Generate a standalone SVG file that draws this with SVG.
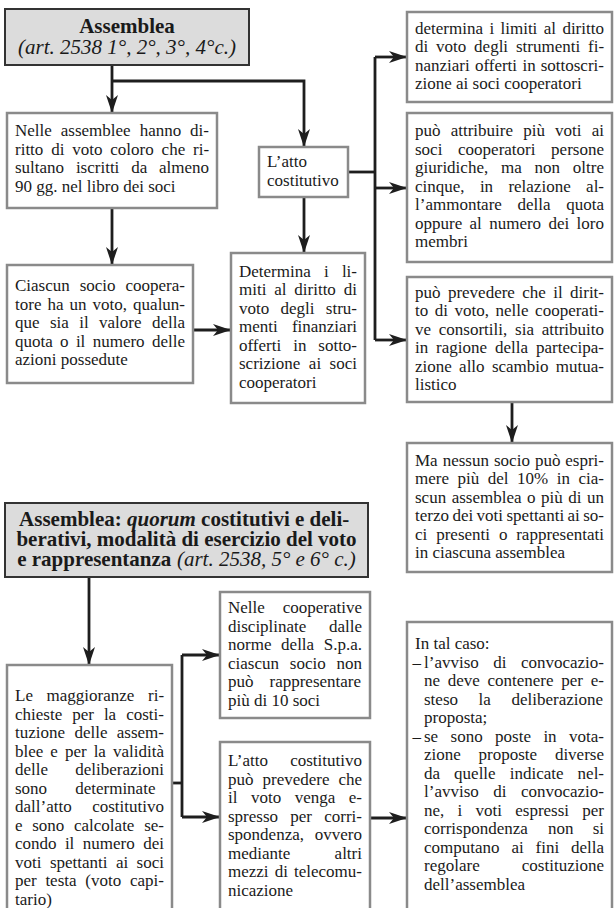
<svg xmlns="http://www.w3.org/2000/svg" width="615" height="908" viewBox="0 0 615 908">
<style>
.bg{fill:#ffffff}
.box{fill:#ffffff;stroke:#8a8a8a;stroke-width:2.5}
.hdr{fill:#dcdcdc;stroke:#333333;stroke-width:2}
text{font-family:"Liberation Serif","Times New Roman",serif;font-size:17px;fill:#1a1a1a}
.h{font-size:21px}
.b{font-weight:bold}
.i{font-style:italic}
.n{font-weight:normal}
.conn{fill:none;stroke:#1e1e1e;stroke-width:2.8}
</style>
<defs>
<marker id="arr" markerUnits="userSpaceOnUse" markerWidth="18" markerHeight="12" refX="17" refY="6" orient="auto">
<path d="M0,0 L18,6 L0,12 L5,6 z" fill="#1e1e1e"/>
</marker>
</defs>
<rect class="bg" x="0" y="0" width="615" height="908"/>

<g id="connectors">
<path class="conn" d="M112,65 V112" marker-end="url(#arr)"/>
<path class="conn" d="M112,81 H304 V146" marker-end="url(#arr)"/>
<path class="conn" d="M112,208 V264" marker-end="url(#arr)"/>
<path class="conn" d="M304,197 V252" marker-end="url(#arr)"/>
<path class="conn" d="M193,330 H230" marker-end="url(#arr)"/>
<path class="conn" d="M348,172 H375"/>
<path class="conn" d="M375,57 V340"/>
<path class="conn" d="M375,57 H406" marker-end="url(#arr)"/>
<path class="conn" d="M375,188 H406" marker-end="url(#arr)"/>
<path class="conn" d="M375,340 H406" marker-end="url(#arr)"/>
<path class="conn" d="M512,402 V442" marker-end="url(#arr)"/>
<path class="conn" d="M89,577 V664" marker-end="url(#arr)"/>
<path class="conn" d="M172,783 H182"/>
<path class="conn" d="M182,655 V817"/>
<path class="conn" d="M182,655 H219" marker-end="url(#arr)"/>
<path class="conn" d="M182,817 H219" marker-end="url(#arr)"/>
<path class="conn" d="M370,818 H406" marker-end="url(#arr)"/>
</g>

<g id="header1">
<rect class="hdr" x="5" y="9" width="244" height="56"/>
<text class="h b" x="127" y="33" text-anchor="middle">Assemblea</text>
<text class="h i" x="127" y="54" text-anchor="middle">(art. 2538 1°, 2°, 3°, 4°c.)</text>
</g>

<g id="boxA">
<rect class="box" x="7" y="113" width="210" height="95"/>
<text y="136"><tspan x="15">Nelle</tspan><tspan x="60.8">assemblee</tspan><tspan x="139.7">hanno</tspan><tspan x="190.1">di-</tspan></text>
<text y="154.5"><tspan x="15">ritto</tspan><tspan x="51.2">di</tspan><tspan x="72.2">voto</tspan><tspan x="110.3">coloro</tspan><tspan x="161.6">che</tspan><tspan x="193">ri-</tspan></text>
<text y="173"><tspan x="15">sultano</tspan><tspan x="75.9">iscritti</tspan><tspan x="131.2">da</tspan><tspan x="159">almeno</tspan></text>
<text x="15" y="191.5">90 gg. nel libro dei soci</text>
</g>

<g id="boxD">
<rect class="box" x="259" y="147" width="89" height="50"/>
<text x="267" y="167">L’atto</text>
<text x="267" y="185.5">costitutivo</text>
</g>

<g id="boxB">
<rect class="box" x="7" y="265" width="186" height="118"/>
<text y="291"><tspan x="15">Ciascun</tspan><tspan x="79.7">socio</tspan><tspan x="125.5">coopera-</tspan></text>
<text y="309.5"><tspan x="15">tore</tspan><tspan x="47.45">ha</tspan><tspan x="69.5">un</tspan><tspan x="92.55">voto,</tspan><tspan x="133.1">qualun-</tspan></text>
<text y="328"><tspan x="15">que</tspan><tspan x="49.9">sia</tspan><tspan x="79.2">il</tspan><tspan x="99.05">valore</tspan><tspan x="152">della</tspan></text>
<text y="346.5"><tspan x="15">quota</tspan><tspan x="60.1">o</tspan><tspan x="75.9">il</tspan><tspan x="92.7">numero</tspan><tspan x="152">delle</tspan></text>
<text x="15" y="365">azioni possedute</text>
</g>

<g id="boxC">
<rect class="box" x="231" y="253" width="134" height="150"/>
<text y="276.5"><tspan x="239">Determina</tspan><tspan x="323.9">i</tspan><tspan x="341.9">li-</tspan></text>
<text y="295"><tspan x="239">miti</tspan><tspan x="274.2">al</tspan><tspan x="294.3">diritto</tspan><tspan x="343.8">di</tspan></text>
<text y="313.5"><tspan x="239">voto</tspan><tspan x="280.5">degli</tspan><tspan x="325.8">stru-</tspan></text>
<text y="332"><tspan x="239">menti</tspan><tspan x="291.9">finanziari</tspan></text>
<text y="350.5"><tspan x="239">offerti</tspan><tspan x="293.3">in</tspan><tspan x="318.3">sotto-</tspan></text>
<text y="369"><tspan x="239">scrizione</tspan><tspan x="308.85">ai</tspan><tspan x="329.6">soci</tspan></text>
<text x="239" y="387.5">cooperatori</text>
</g>

<g id="boxR1">
<rect class="box" x="407" y="12" width="205" height="90"/>
<text y="33.5"><tspan x="415">determina</tspan><tspan x="489.4">i</tspan><tspan x="500.5">limiti</tspan><tspan x="543.8">al</tspan><tspan x="562.4">diritto</tspan></text>
<text y="52"><tspan x="415">di</tspan><tspan x="436.05">voto</tspan><tspan x="474.1">degli</tspan><tspan x="515.95">strumenti</tspan><tspan x="588">fi-</tspan></text>
<text y="70.5"><tspan x="415">nanziari</tspan><tspan x="474.9">offerti</tspan><tspan x="522.5">in</tspan><tspan x="540.7">sottoscri-</tspan></text>
<text x="415" y="89">zione ai soci cooperatori</text>
</g>

<g id="boxR2">
<rect class="box" x="407" y="113" width="205" height="149"/>
<text y="136"><tspan x="415">può</tspan><tspan x="450.7">attribuire</tspan><tspan x="523.2">più</tspan><tspan x="555.1">voti</tspan><tspan x="591.7">ai</tspan></text>
<text y="154.5"><tspan x="415">soci</tspan><tspan x="458.05">cooperatori</tspan><tspan x="551.1">persone</tspan></text>
<text y="173"><tspan x="415">giuridiche,</tspan><tspan x="501">ma</tspan><tspan x="534.6">non</tspan><tspan x="572.8">oltre</tspan></text>
<text y="191.5"><tspan x="415">cinque,</tspan><tspan x="479.9">in</tspan><tspan x="508.4">relazione</tspan><tspan x="586.1">al-</tspan></text>
<text y="210"><tspan x="415">l’ammontare</tspan><tspan x="517.55">della</tspan><tspan x="566.2">quota</tspan></text>
<text y="228.5"><tspan x="415">oppure</tspan><tspan x="469.55">al</tspan><tspan x="489.2">numero</tspan><tspan x="548.45">dei</tspan><tspan x="576.6">loro</tspan></text>
<text x="415" y="247">membri</text>
</g>

<g id="boxR3">
<rect class="box" x="407" y="277" width="205" height="125"/>
<text y="297.5"><tspan x="415">può</tspan><tspan x="447.9">prevedere</tspan><tspan x="522.2">che</tspan><tspan x="553.2">il</tspan><tspan x="570">dirit-</tspan></text>
<text y="316"><tspan x="415">to</tspan><tspan x="434.75">di</tspan><tspan x="454.5">voto,</tspan><tspan x="495.55">nelle</tspan><tspan x="535.1">cooperati-</tspan></text>
<text y="334.5"><tspan x="415">ve</tspan><tspan x="438.8">consortili,</tspan><tspan x="515.05">sia</tspan><tspan x="541.7">attribuito</tspan></text>
<text y="353"><tspan x="415">in</tspan><tspan x="436.1">ragione</tspan><tspan x="495">della</tspan><tspan x="536">partecipa-</tspan></text>
<text y="371.5"><tspan x="415">zione</tspan><tspan x="459.1">allo</tspan><tspan x="491.9">scambio</tspan><tspan x="555.8">mutua-</tspan></text>
<text x="415" y="390">listico</text>
</g>

<g id="boxR4">
<rect class="box" x="407" y="443" width="205" height="129"/>
<text y="465.5"><tspan x="415">Ma</tspan><tspan x="442.7">nessun</tspan><tspan x="494">socio</tspan><tspan x="534.9">può</tspan><tspan x="565.3">espri-</tspan></text>
<text y="484"><tspan x="415">mere</tspan><tspan x="457.5">più</tspan><tspan x="487.7">del</tspan><tspan x="517">10%</tspan><tspan x="556.7">in</tspan><tspan x="578.5">cia-</tspan></text>
<text y="502.5"><tspan x="415">scun</tspan><tspan x="451.7">assemblea</tspan><tspan x="527.1">o</tspan><tspan x="541.1">più</tspan><tspan x="568.3">di</tspan><tspan x="587">un</tspan></text>
<text y="521"><tspan x="415">terzo</tspan><tspan x="452.4">dei</tspan><tspan x="476.6">voti</tspan><tspan x="506.5">spettanti</tspan><tspan x="567.5">ai</tspan><tspan x="583.2">so-</tspan></text>
<text y="539.5"><tspan x="415">ci</tspan><tspan x="436.2">presenti</tspan><tspan x="498.9">o</tspan><tspan x="516.2">rappresentati</tspan></text>
<text x="415" y="558">in ciascuna assemblea</text>
</g>

<g id="header2">
<rect class="hdr" x="5" y="503" width="363" height="74"/>
<text class="h b" y="526"><tspan x="19.1">Assemblea:</tspan><tspan class="i" x="127">quorum</tspan><tspan x="201.1">costitutivi e deli-</tspan></text>
<text class="h b" x="186.5" y="546" text-anchor="middle">berativi, modalità di esercizio del voto</text>
<text class="h" y="566"><tspan class="b" x="17.2">e rappresentanza</tspan><tspan class="i n" x="176.9">(art. 2538, 5° e 6° c.)</tspan></text>
</g>

<g id="boxE">
<rect class="box" x="7" y="665" width="165" height="265"/>
<text y="701"><tspan x="15">Le</tspan><tspan x="46.5">maggioranze</tspan><tspan x="148">ri-</tspan></text>
<text y="719.5"><tspan x="15">chieste</tspan><tspan x="72.2">per</tspan><tspan x="103.9">la</tspan><tspan x="126.2">costi-</tspan></text>
<text y="738"><tspan x="15">tuzione</tspan><tspan x="74.4">delle</tspan><tspan x="116.8">assem-</tspan></text>
<text y="756.5"><tspan x="15">blee</tspan><tspan x="50.35">e</tspan><tspan x="64.9">per</tspan><tspan x="93.65">la</tspan><tspan x="113">validità</tspan></text>
<text y="775"><tspan x="15">delle</tspan><tspan x="75.2">deliberazioni</tspan></text>
<text y="793.5"><tspan x="15">sono</tspan><tspan x="75.2">determinate</tspan></text>
<text y="812"><tspan x="15">dall’atto</tspan><tspan x="92.2">costitutivo</tspan></text>
<text y="830.5"><tspan x="15">e</tspan><tspan x="32.2">sono</tspan><tspan x="74">calcolate</tspan><tspan x="144.2">se-</tspan></text>
<text y="849"><tspan x="15">condo</tspan><tspan x="64.9">il</tspan><tspan x="82.8">numero</tspan><tspan x="143.2">dei</tspan></text>
<text y="867.5"><tspan x="15">voti</tspan><tspan x="49.9">spettanti</tspan><tspan x="115.9">ai</tspan><tspan x="136.6">soci</tspan></text>
<text y="886"><tspan x="15">per</tspan><tspan x="45.4">testa</tspan><tspan x="85.3">(voto</tspan><tspan x="130">capi-</tspan></text>
<text x="15" y="904.5">tario)</text>
</g>

<g id="boxF">
<rect class="box" x="220" y="592" width="150" height="126"/>
<text y="613"><tspan x="228">Nelle</tspan><tspan x="282.7">cooperative</tspan></text>
<text y="631.5"><tspan x="228">disciplinate</tspan><tspan x="329">dalle</tspan></text>
<text y="650"><tspan x="228">norme</tspan><tspan x="281.1">della</tspan><tspan x="323.7">S.p.a.</tspan></text>
<text y="668.5"><tspan x="228">ciascun</tspan><tspan x="289.8">socio</tspan><tspan x="336.5">non</tspan></text>
<text y="687"><tspan x="228">può</tspan><tspan x="269.5">rappresentare</tspan></text>
<text x="228" y="705.5">più di 10 soci</text>
</g>

<g id="boxG">
<rect class="box" x="220" y="742" width="150" height="188"/>
<text y="766"><tspan x="228">L’atto</tspan><tspan x="290.2">costitutivo</tspan></text>
<text y="784.5"><tspan x="228">può</tspan><tspan x="262.5">prevedere</tspan><tspan x="338.4">che</tspan></text>
<text y="803"><tspan x="228">il</tspan><tspan x="251">voto</tspan><tspan x="294.7">venga</tspan><tspan x="348.8">e-</tspan></text>
<text y="821.5"><tspan x="228">spresso</tspan><tspan x="290.25">per</tspan><tspan x="324.2">corri-</tspan></text>
<text y="840"><tspan x="228">spondenza,</tspan><tspan x="314.8">ovvero</tspan></text>
<text y="858.5"><tspan x="228">mediante</tspan><tspan x="334.6">altri</tspan></text>
<text y="877"><tspan x="228">mezzi</tspan><tspan x="274.7">di</tspan><tspan x="294">telecomu-</tspan></text>
<text x="228" y="895.5">nicazione</text>
</g>

<g id="boxH">
<rect class="box" x="407" y="622" width="205" height="308"/>
<text x="415" y="649">In tal caso:</text>
<text y="667.5"><tspan x="412.5">–</tspan><tspan x="424">l’avviso</tspan><tspan x="493.25">di</tspan><tspan x="520.9">convocazio-</tspan></text>
<text y="686"><tspan x="424">ne</tspan><tspan x="447.7">deve</tspan><tspan x="487.5">contenere</tspan><tspan x="561.3">per</tspan><tspan x="590.8">e-</tspan></text>
<text y="704.5"><tspan x="424">steso</tspan><tspan x="478.6">la</tspan><tspan x="511.5">deliberazione</tspan></text>
<text x="424" y="723">proposta;</text>
<text y="741.5"><tspan x="412.5">–</tspan><tspan x="424">se</tspan><tspan x="450.6">sono</tspan><tspan x="495.1">poste</tspan><tspan x="543.4">in</tspan><tspan x="569.1">vota-</tspan></text>
<text y="760"><tspan x="424">zione</tspan><tspan x="478.6">proposte</tspan><tspan x="554.9">diverse</tspan></text>
<text y="778.5"><tspan x="424">da</tspan><tspan x="454.1">quelle</tspan><tspan x="509.7">indicate</tspan><tspan x="577.6">nel-</tspan></text>
<text y="797"><tspan x="424">l’avviso</tspan><tspan x="493.25">di</tspan><tspan x="520.9">convocazio-</tspan></text>
<text y="815.5"><tspan x="424">ne,</tspan><tspan x="457.55">i</tspan><tspan x="475.5">voti</tspan><tspan x="515.25">espressi</tspan><tspan x="582.3">per</tspan></text>
<text y="834"><tspan x="424">corrispondenza</tspan><tspan x="548">non</tspan><tspan x="592.7">si</tspan></text>
<text y="852.5"><tspan x="424">computano</tspan><tspan x="511.4">ai</tspan><tspan x="535.6">fini</tspan><tspan x="571">della</tspan></text>
<text y="871"><tspan x="424">regolare</tspan><tspan x="521.8">costituzione</tspan></text>
<text x="424" y="889.5">dell’assemblea</text>
</g>
</svg>
